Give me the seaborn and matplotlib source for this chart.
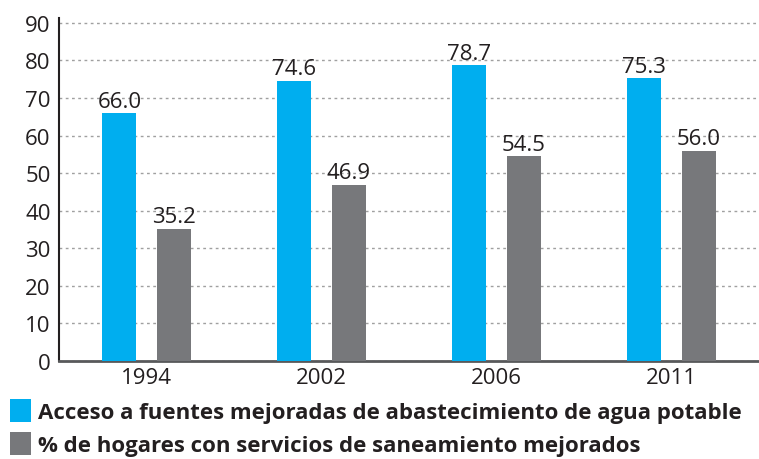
import matplotlib.pyplot as plt
import pandas as pd
import seaborn as sns
from matplotlib.patches import Patch

# chart data
years = ["1994", "2002", "2006", "2011"]
agua = [66.0, 74.6, 78.7, 75.3]
saneamiento = [35.2, 46.9, 54.5, 56.0]
series = [
    "Acceso a fuentes mejoradas de abastecimiento de agua potable",
    "% de hogares con servicios de saneamiento mejorados",
]
colors = ["#00AEEF", "#77787B"]
text_color = "#231F20"


def main():
    df = pd.DataFrame({
        "year": years * 2,
        "value": agua + saneamiento,
        "serie": [series[0]] * len(years) + [series[1]] * len(years),
    })

    sns.set_style("white")
    plt.rcParams["font.family"] = ["Open Sans", "DejaVu Sans"]

    fig = plt.figure(figsize=(7.59, 4.60), dpi=100)
    ax = fig.add_axes([0.0777, 0.213, 0.9223, 0.7457])

    sns.barplot(data=df, x="year", y="value", hue="serie", hue_order=series,
                palette=dict(zip(series, colors)), width=0.62, gap=0.37,
                saturation=1, linewidth=0, legend=False, ax=ax, zorder=3)

    for cont in ax.containers:
        ax.bar_label(cont, fmt="%.1f", padding=1, fontsize=16, color=text_color)

    ax.set_xlim(-0.5, 3.5)
    ax.set_ylim(0, 91.3)
    ax.set_yticks(range(0, 91, 10))
    ax.yaxis.grid(True, color="#A0A0A0", linestyle=(0, (2, 2.5)), linewidth=1, zorder=0)
    ax.xaxis.grid(False)
    ax.set_xlabel("")
    ax.set_ylabel("")

    for side in ["top", "right"]:
        ax.spines[side].set_visible(False)
    ax.spines["left"].set_color(text_color)
    ax.spines["left"].set_linewidth(1.5)
    ax.spines["bottom"].set_color("#58595B")
    ax.spines["bottom"].set_linewidth(2)

    ax.tick_params(axis="both", which="major", length=0, labelsize=16, labelcolor=text_color)
    ax.tick_params(axis="x", pad=4)
    ax.tick_params(axis="y", pad=6)
    # boundary ticks between the year groups
    ax.set_xticks([-0.5, 0.5, 1.5, 2.5], minor=True)
    ax.tick_params(axis="x", which="minor", direction="inout", length=22, width=1.5, color="#3A3A3A")
    ax.set_yticks([0], minor=True)
    ax.tick_params(axis="y", which="minor", direction="out", length=9, width=2, color="#58595B")

    handles = [Patch(facecolor=c, edgecolor="none") for c in colors]
    fig.legend(handles, series, loc="upper left", bbox_to_anchor=(0.013, 0.13),
               frameon=False, handlelength=0.95, handleheight=1.2, handletextpad=0.3,
               labelspacing=0.42, borderaxespad=0, borderpad=0,
               prop={"size": 16, "weight": "bold"}, labelcolor=text_color)

    fig.savefig("out.png", dpi=100)


if __name__ == "__main__":
    main()
